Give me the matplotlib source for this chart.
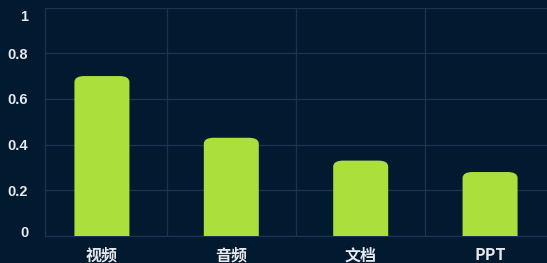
import matplotlib.pyplot as plt
import matplotlib.transforms as mtransforms
from matplotlib.patches import FancyBboxPatch

# data
categories = ["视频", "音频", "文档", "PPT"]
values = [0.70, 0.43, 0.33, 0.28]
yticks = [0, 0.2, 0.4, 0.6, 0.8, 1]
ytick_labels = ["0", "0.2", "0.4", "0.6", "0.8", "1"]

bg = "#011a30"
bar_color = "#abdf3c"
grid_color = "#1b3550"
text_color = "#e6e8ec"

plt.rcParams["font.family"] = ["Liberation Sans", "Noto Sans CJK SC", "DejaVu Sans"]

fig = plt.figure(figsize=(5.47, 2.63), dpi=100, facecolor=bg)
ax = fig.add_axes([45 / 547, 27 / 263, 502 / 547, 228.5 / 263], facecolor=bg)

ax.set_xlim(-0.44, 3.44)
ax.set_ylim(0, 1)

# px per data unit for rounding the bar tops
px_x = 502 / 3.88
px_y = 228.5
r_px = 10
bar_w = 55 / px_x

bars = ax.bar(range(len(categories)), values, width=bar_w, color="none")
for b in bars:
    x0 = b.get_x()
    h = b.get_height()
    rs = r_px / px_x
    asp = px_x / px_y
    patch = FancyBboxPatch(
        (x0, -0.1), bar_w, h + 0.1,
        boxstyle=f"round,pad=0,rounding_size={rs}",
        mutation_aspect=asp * 0.6,
        facecolor=bar_color, edgecolor="none", zorder=3,
    )
    ax.add_patch(patch)

ax.set_yticks(yticks)
ax.set_yticklabels(ytick_labels, fontsize=10.5, color=text_color, fontweight="bold")
ax.set_xticks(range(len(categories)))
ax.set_xticklabels(categories, fontsize=11.5, color=text_color, fontweight="bold",
                   family=["Noto Sans CJK SC", "Liberation Sans"])
ax.set_xticks([0.5, 1.5, 2.5], minor=True)

ax.tick_params(axis="both", which="both", length=0)
ax.tick_params(axis="y", pad=12)
ax.tick_params(axis="x", pad=8)

# end labels sit a bit inside the frame, like the original
ylabels = ax.get_yticklabels()
ylabels[0].set_transform(ylabels[0].get_transform() + mtransforms.ScaledTranslation(0, 3 / 72, fig.dpi_scale_trans))
ylabels[-1].set_transform(ylabels[-1].get_transform() + mtransforms.ScaledTranslation(0, -6 / 72, fig.dpi_scale_trans))

ax.grid(axis="y", color=grid_color, linewidth=0.9, zorder=0)
ax.grid(axis="x", which="minor", color=grid_color, linewidth=0.9, zorder=0)
ax.grid(axis="x", which="major", visible=False)

for side in ["top", "right"]:
    ax.spines[side].set_visible(False)
for side in ["left", "bottom"]:
    ax.spines[side].set_color(grid_color)
    ax.spines[side].set_linewidth(0.9)

fig.savefig("out.png", dpi=100, facecolor=bg)
